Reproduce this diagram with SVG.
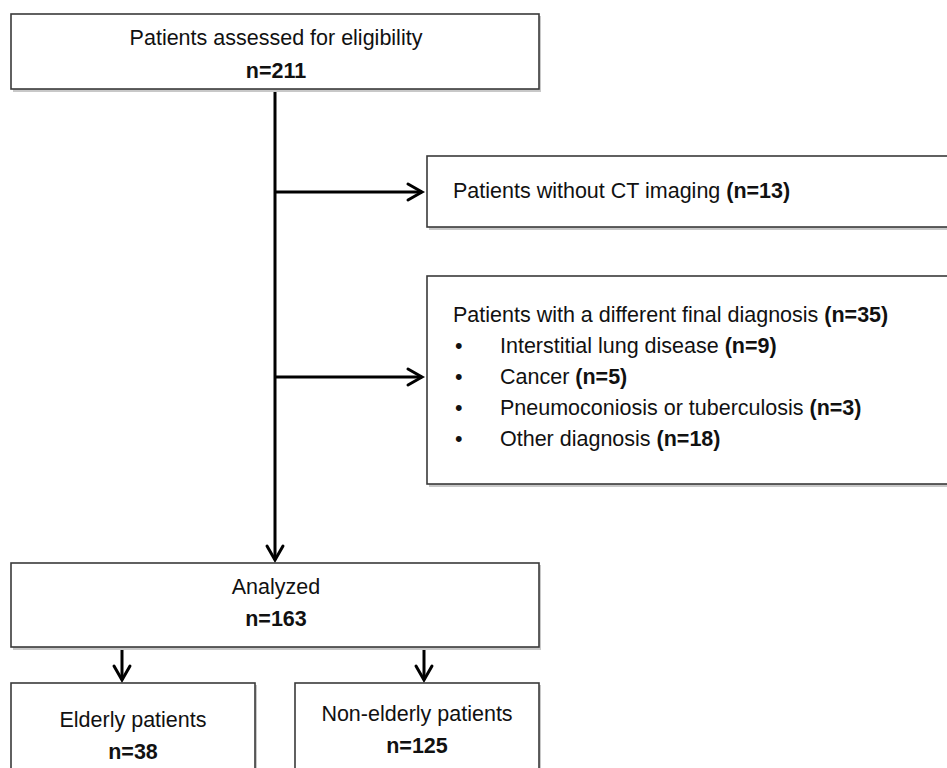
<svg xmlns="http://www.w3.org/2000/svg" width="947" height="768" viewBox="0 0 947 768">
<defs>
<style>
.box{fill:#fff;stroke:#3a3a3a;stroke-width:1.6}
.shadow{fill:#c8c8c8}
.t{font-family:"Liberation Sans",Arial,sans-serif;font-size:21.5px;fill:#111}
.b{font-weight:bold}
.c{text-anchor:middle}
.ln{stroke:#000;stroke-width:3;fill:none}
.ah{stroke:#000;stroke-width:3;fill:none;stroke-linecap:round;stroke-linejoin:miter}
</style>
</defs>
<rect width="947" height="768" fill="#fff"/>
<g id="connectors">
<line class="ln" x1="275" y1="89" x2="275" y2="560"/>
<path class="ah" d="M267,546 L275,560 L283,546"/>
<line class="ln" x1="275" y1="192" x2="422" y2="192"/>
<path class="ah" d="M408,184 L422,192 L408,200"/>
<line class="ln" x1="275" y1="377" x2="422" y2="377"/>
<path class="ah" d="M408,369 L422,377 L408,385"/>
<line class="ln" x1="122" y1="647" x2="122" y2="680"/>
<path class="ah" d="M114,666 L122,680 L130,666"/>
<line class="ln" x1="424" y1="647" x2="424" y2="680"/>
<path class="ah" d="M416,666 L424,680 L432,666"/>
</g>
<g id="assessed">
<rect class="shadow" x="13" y="16" width="528" height="76"/>
<rect class="box" x="11" y="14" width="528" height="75"/>
<text class="t c" x="276" y="45">Patients assessed for eligibility</text>
<text class="t c b" x="276" y="78">n=211</text>
</g>
<g id="noCT">
<rect class="shadow" x="429" y="158" width="520" height="72"/>
<rect class="box" x="427" y="156" width="522" height="71"/>
<text class="t" x="453" y="198">Patients without CT imaging <tspan class="b">(n=13)</tspan></text>
</g>
<g id="diffdiag">
<rect class="shadow" x="429" y="278" width="520" height="209"/>
<rect class="box" x="427" y="276" width="522" height="208"/>
<text class="t" x="453" y="322">Patients with a different final diagnosis <tspan class="b">(n=35)</tspan></text>
<text class="t" x="455" y="353">•</text>
<text class="t" x="500" y="353">Interstitial lung disease <tspan class="b">(n=9)</tspan></text>
<text class="t" x="455" y="384">•</text>
<text class="t" x="500" y="384">Cancer <tspan class="b">(n=5)</tspan></text>
<text class="t" x="455" y="415">•</text>
<text class="t" x="500" y="415">Pneumoconiosis or tuberculosis <tspan class="b">(n=3)</tspan></text>
<text class="t" x="455" y="446">•</text>
<text class="t" x="500" y="446">Other diagnosis <tspan class="b">(n=18)</tspan></text>
</g>
<g id="analyzed">
<rect class="shadow" x="13" y="565" width="528" height="85"/>
<rect class="box" x="11" y="563" width="528" height="84"/>
<text class="t c" x="276" y="594">Analyzed</text>
<text class="t c b" x="276" y="626">n=163</text>
</g>
<g id="elderly">
<rect class="shadow" x="13" y="685" width="244" height="90"/>
<rect class="box" x="11" y="683" width="244" height="90"/>
<text class="t c" x="133" y="727">Elderly patients</text>
<text class="t c b" x="133" y="759">n=38</text>
</g>
<g id="nonelderly">
<rect class="shadow" x="297" y="685" width="244" height="90"/>
<rect class="box" x="295" y="683" width="244" height="90"/>
<text class="t c" x="417" y="721">Non-elderly patients</text>
<text class="t c b" x="417" y="753">n=125</text>
</g>
</svg>
